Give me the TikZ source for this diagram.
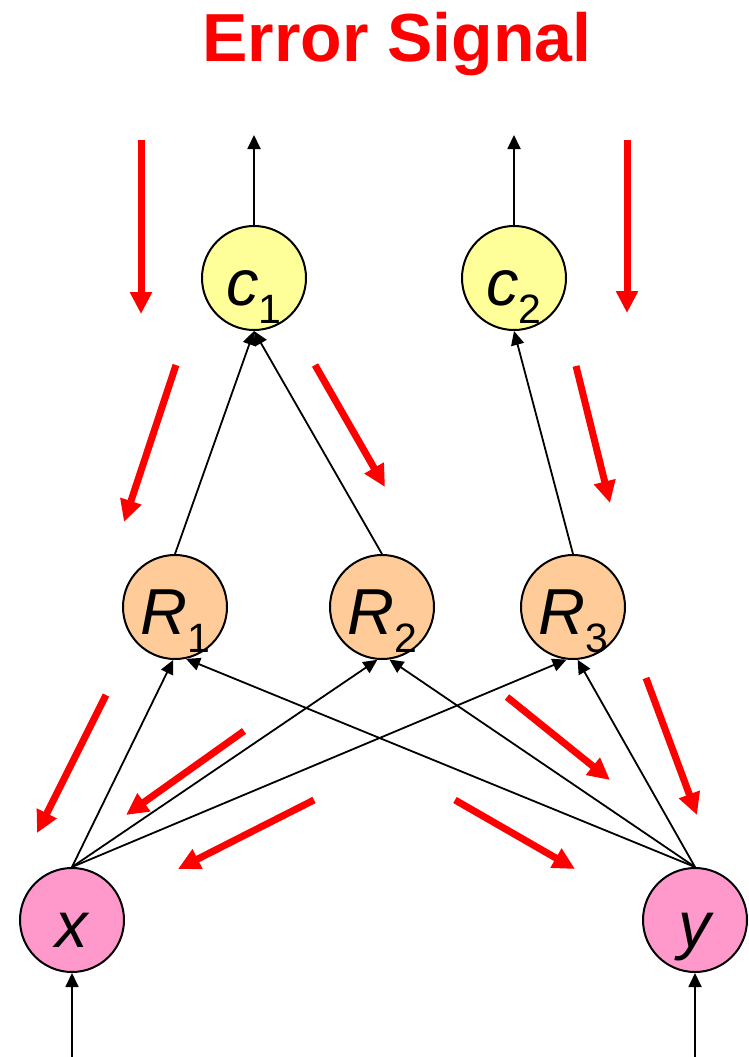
\documentclass[tikz,border=0pt]{standalone}
\usepackage{fontspec}
\setmainfont{Liberation Sans}
\usetikzlibrary{arrows.meta,positioning}
\definecolor{outyel}{RGB}{255,255,153}
\definecolor{hidorg}{RGB}{255,204,153}
\definecolor{inpink}{RGB}{255,153,204}
\newcommand{\nlabel}[2]{#1\raisebox{-0.28em}{\fontsize{41}{41}\selectfont\upshape #2}}
\tikzset{
    title/.style={anchor=base,text=red,inner sep=0pt,font=\fontsize{68}{68}\selectfont\bfseries},
    neuron/.style={circle,draw=black,line width=2pt,minimum size=104pt,inner sep=0pt,text height=54pt,text depth=0pt,font=\fontsize{65}{65}\selectfont\itshape},
    outunit/.style={neuron,fill=outyel},
    hidunit/.style={neuron,fill=hidorg},
    inunit/.style={neuron,fill=inpink},
    arrowfwd/.style={draw=black,line width=1.8pt,-{Triangle[length=14pt,width=13pt]}},
    arrowerr/.style={draw=red,line width=7pt,-{Triangle[length=22pt,width=21pt]}}
}
\begin{document}
\begin{tikzpicture}[x=1pt,y=-1pt]
    \useasboundingbox (0,0) rectangle (748,1057);
    \node[title] (ttl) at (397,62) {Error Signal};

    \node[outunit] (c1) at (254,278) {\nlabel{c}{1}};
    \node[outunit] (c2) at (514,278) {\nlabel{c}{2}};
    \node[hidunit] (R1) at (175,607) {\nlabel{R}{1}};
    \node[hidunit] (R2) at (382,607) {\nlabel{R}{2}};
    \node[hidunit] (R3) at (573,607) {\nlabel{R}{3}};
    \node[inunit] (x) at (72,920) {x};
    \node[inunit] (y) at (695,920) {y};

    \coordinate (c1out) at (254,135);
    \coordinate (c2out) at (514,135);
    \coordinate (xin) at (72,1057);
    \coordinate (yin) at (695,1057);

    \begin{scope}
        \draw[arrowfwd] (xin) -- (x);
        \draw[arrowfwd] (yin) -- (y);
        \draw[arrowfwd] (x.north) -- (R1.-92);
        \draw[arrowfwd] (x.north) -- (R2.-95);
        \draw[arrowfwd] (x.north) -- (R3.-97);
        \draw[arrowfwd] (y.north) -- (R1.-78);
        \draw[arrowfwd] (y.north) -- (R2.-82);
        \draw[arrowfwd] (y.north) -- (R3.-85);
        \draw[arrowfwd] (R1.north) -- (c1.south);
        \draw[arrowfwd] (R2.north) -- (c1.south);
        \draw[arrowfwd] (R3.north) -- (c2.south);
        \draw[arrowfwd] (c1.north) -- (c1out);
        \draw[arrowfwd] (c2.north) -- (c2out);
    \end{scope}

    % error signal flowing back
    \draw[arrowerr] (141,140) -- (141,314);
    \draw[arrowerr] (627,140) -- (627,313);
    \draw[arrowerr] (176,365) -- (124,522);
    \draw[arrowerr] (315,365) -- (385,487);
    \draw[arrowerr] (576,366) -- (610,503);
    \draw[arrowerr] (106,695) -- (37,833);
    \draw[arrowerr] (244,731) -- (126,815);
    \draw[arrowerr] (314,800) -- (178,869);
    \draw[arrowerr] (507,697) -- (610,780);
    \draw[arrowerr] (646,678) -- (697,815);
    \draw[arrowerr] (455,800) -- (575,869);
\end{tikzpicture}
\end{document}
